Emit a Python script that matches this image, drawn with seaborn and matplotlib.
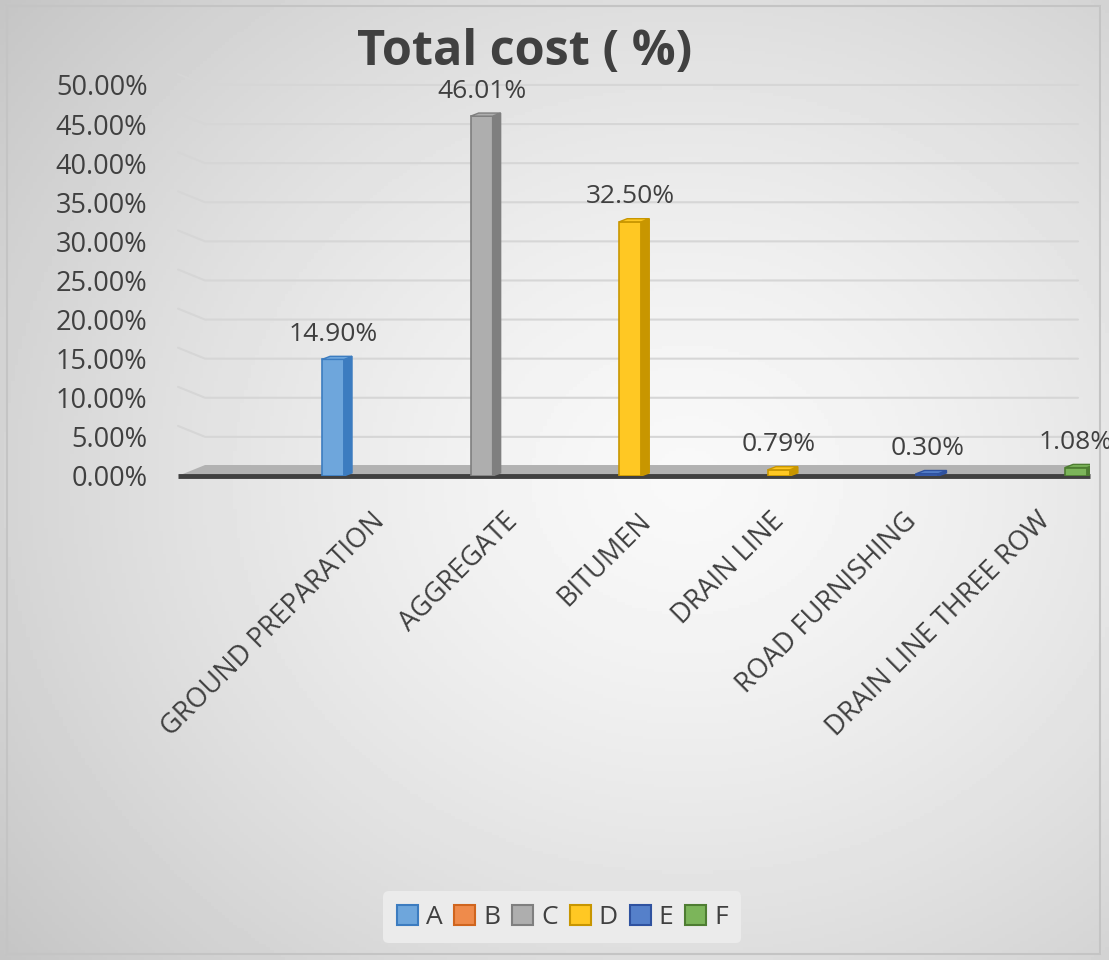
import numpy as np
import pandas as pd
import matplotlib
matplotlib.use("Agg")
import matplotlib.pyplot as plt
from matplotlib.patches import Polygon, Patch, Rectangle
import seaborn as sns

# ---- data ----
categories = ["GROUND PREPARATION", "AGGREGATE", "BITUMEN", "DRAIN LINE",
              "ROAD FURNISHING", "DRAIN LINE THREE ROW"]
values = [14.90, 46.01, 32.50, 0.79, 0.30, 1.08]
series = ["A", "C", "D", "D", "E", "F"]
legend_labels = ["A", "B", "C", "D", "E", "F"]
y_ticks = [0, 5, 10, 15, 20, 25, 30, 35, 40, 45, 50]
title = "Total cost ( %)"

face = {"A": "#6EA6DC", "B": "#EF8B4B", "C": "#AEAEAE",
        "D": "#FFC823", "E": "#5580CA", "F": "#7CB55A"}
edge = {"A": "#3C7CC0", "B": "#D0651E", "C": "#7F7F7F",
        "D": "#C89600", "E": "#2F52A0", "F": "#4E7D32"}

sns.set_theme(style="white")
plt.rcParams["font.family"] = ["Open Sans", "DejaVu Sans"]
TXT = "#404040"

fig = plt.figure(figsize=(11.09, 9.6), dpi=100)

# background gradient
bg = fig.add_axes([0, 0, 1, 1], zorder=-10)
yy, xx = np.mgrid[0:1:300j, 0:1:300j]
r = np.sqrt(((xx - 0.62) / 1.0) ** 2 + ((yy - 0.50) / 1.0) ** 2)
img = 0.975 - 0.28 * np.clip(r, 0, 1) ** 1.4
bg.imshow(img, cmap="gray", vmin=0, vmax=1, extent=[0, 1, 0, 1],
          origin="upper", aspect="auto")
bg.add_patch(Rectangle((0.006, 0.006), 0.986, 0.988, fill=False,
                       edgecolor="#c4c4c4", lw=1.5, transform=bg.transAxes))
bg.set_xlim(0, 1); bg.set_ylim(0, 1)
bg.axis("off")

ax = fig.add_axes([0.1605, 0.5042, 0.8224, 0.4073])
ax.set_facecolor("none")

df = pd.DataFrame({"category": categories, "value": values, "series": series})
sns.barplot(data=df, x="category", y="value", hue="series",
            hue_order=legend_labels, palette=face, dodge=False, width=0.148,
            legend=False, ax=ax, zorder=3, saturation=1)
bars = [p for p in ax.patches if isinstance(p, Rectangle)]

xl = (-1.043, 5.094)
ax.set_xlim(*xl)
ax.set_ylim(0, 50)

# gridlines with 3D slant at left
gx0, gx1 = -0.861, 5.013
for t in y_ticks[1:]:
    ax.plot([xl[0], gx0, gx1], [t + 1.4, t, t], color="#d6d6d6", lw=1.5,
            zorder=1, clip_on=False)
# floor
ax.fill([xl[0], gx0, gx1, xl[1], xl[1], xl[0]],
        [0, 1.4, 1.4, 0, 0, 0], color="#b2b2b2", zorder=2, lw=0)
ax.plot(xl, [0, 0], color="#404040", lw=3.5, zorder=2, clip_on=False,
        solid_capstyle="butt")

# 3D faces for bars
dx, dy = 0.054, 0.4
for p in bars:
    h = p.get_height()
    if not h or np.isnan(h) or p.get_width() == 0:
        continue
    x0, w = p.get_x(), p.get_width()
    fc = p.get_facecolor()
    key = [k for k, v in face.items() if np.allclose(matplotlib.colors.to_rgba(v), fc, atol=0.01)]
    k = key[0] if key else "A"
    p.set_edgecolor(edge[k]); p.set_linewidth(1.2)
    ax.add_patch(Polygon([(x0 + w, 0), (x0 + w + dx, dy), (x0 + w + dx, h + dy),
                          (x0 + w, h)], closed=True, facecolor=edge[k],
                         edgecolor=edge[k], lw=1, zorder=3))
    ax.add_patch(Polygon([(x0, h), (x0 + dx, h + dy), (x0 + w + dx, h + dy),
                          (x0 + w, h)], closed=True, facecolor=face[k],
                         edgecolor=edge[k], lw=1, zorder=4))

# data labels
for i, v in enumerate(values):
    ax.annotate(f"{v:.2f}%", (i, v), xytext=(0, 9), textcoords="offset points",
                ha="center", va="bottom", fontsize=19, color=TXT, zorder=6,
                annotation_clip=False)

# y axis
ax.set_yticks(y_ticks)
ax.set_yticklabels([f"{t:.2f}%" for t in y_ticks], fontsize=19.5, color=TXT)
ax.tick_params(axis="y", length=0, pad=22)
ax.set_xticks([])
ax.set_xlabel(""); ax.set_ylabel("")
for s in ax.spines.values():
    s.set_visible(False)

# category labels rotated
trans = matplotlib.transforms.blended_transform_factory(ax.transData, ax.transAxes)
for i, c in enumerate(categories):
    ax.text(0.255 + 0.895 * i, -0.08, c, rotation=45, ha="right", va="top",
            rotation_mode="anchor", fontsize=19.5, color=TXT, transform=trans)

fig.text(0.473, 0.945, title, ha="center", va="center", fontsize=35,
         fontweight="bold", color=TXT)

handles = [Patch(facecolor=face[k], edgecolor=edge[k], lw=1.5) for k in legend_labels]
leg = fig.legend(handles, legend_labels, loc="center", bbox_to_anchor=(0.507, 0.0445),
                 ncol=6, fontsize=19, frameon=True, handlelength=0.8,
                 handleheight=0.8, handletextpad=0.3, columnspacing=0.45,
                 borderpad=0.5)
leg.get_frame().set_facecolor("#ebebeb")
leg.get_frame().set_edgecolor("none")
leg.get_frame().set_alpha(1)
for t in leg.get_texts():
    t.set_color(TXT)

fig.savefig("out.png", dpi=100)
